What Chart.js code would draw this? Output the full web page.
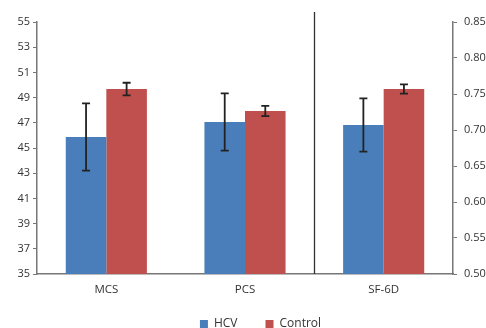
<!DOCTYPE html>
<html>
<head>
<script src="https://cdn.jsdelivr.net/npm/chart.js"></script>
<style>
  body { margin: 0; background: #fff; }
  #wrap { width: 486px; height: 328px; }
</style>
</head>
<body>
<div id="wrap"><canvas id="chart" width="486" height="328"></canvas></div>
<script>
  // data
  const categories = ['MCS', 'PCS', 'SF-6D'];
  const hcvLeft = [45.87, 47.06, null];      // MCS, PCS (left axis)
  const hcvLeftErr = [2.67, 2.27, null];
  const ctrlLeft = [49.68, 47.94, null];
  const ctrlLeftErr = [0.5, 0.41, null];
  const hcvRight = [null, null, 0.707];      // SF-6D (right axis)
  const hcvRightErr = [null, null, 0.037];
  const ctrlRight = [null, null, 0.757];
  const ctrlRightErr = [null, null, 0.0065];

  const BLUE = '#4a7ebb';
  const RED = '#c0504d';

  // error bars + divider line
  const extras = {
    id: 'extras',
    afterLayout(chart) {
      // legend sits a bit higher than chart.js would put it
      chart.legend.top -= 12;
      chart.legend.bottom -= 12;
    },
    afterDatasetsDraw(chart) {
      const ctx = chart.ctx;
      ctx.save();
      ctx.strokeStyle = '#222';
      ctx.lineWidth = 1.8;
      chart.data.datasets.forEach((ds, i) => {
        const meta = chart.getDatasetMeta(i);
        const scale = chart.scales[ds.yAxisID];
        meta.data.forEach((bar, j) => {
          const v = ds.data[j], e = ds.err[j];
          if (v == null || e == null) return;
          const x = bar.x;
          const yt = scale.getPixelForValue(v + e);
          const yb = scale.getPixelForValue(v - e);
          ctx.beginPath();
          ctx.moveTo(x, yt); ctx.lineTo(x, yb);
          ctx.moveTo(x - 4, yt); ctx.lineTo(x + 4, yt);
          ctx.moveTo(x - 4, yb); ctx.lineTo(x + 4, yb);
          ctx.stroke();
        });
      });
      // separator between PCS and SF-6D
      const xs = chart.scales.x;
      const xd = (xs.getPixelForValue(1) + xs.getPixelForValue(2)) / 2;
      ctx.strokeStyle = '#333';
      ctx.lineWidth = 1.3;
      ctx.beginPath();
      ctx.moveTo(Math.round(xd) + 0.5, chart.chartArea.top - 10);
      ctx.lineTo(Math.round(xd) + 0.5, chart.chartArea.bottom);
      ctx.stroke();
      ctx.restore();
    }
  };

  const tickFont = { family: 'Open Sans', size: 11 };

  new Chart(document.getElementById('chart'), {
    type: 'bar',
    data: {
      labels: categories,
      datasets: [
        { label: 'HCV', data: hcvLeft, err: hcvLeftErr, yAxisID: 'y', backgroundColor: BLUE, skipNull: true },
        { label: 'Control', data: ctrlLeft, err: ctrlLeftErr, yAxisID: 'y', backgroundColor: RED, skipNull: true },
        { label: 'HCV ', data: hcvRight, err: hcvRightErr, yAxisID: 'y1', backgroundColor: BLUE, skipNull: true },
        { label: 'Control ', data: ctrlRight, err: ctrlRightErr, yAxisID: 'y1', backgroundColor: RED, skipNull: true }
      ]
    },
    options: {
      responsive: false,
      animation: false,
      categoryPercentage: 0.585,
      barPercentage: 1,
      // negative right/bottom padding shifts the legend to where the original has it
      layout: { padding: { top: 22, left: 0, right: -35, bottom: -24 } },
      plugins: {
        tooltip: { enabled: false },
        legend: {
          position: 'bottom',
          labels: {
            filter: item => item.datasetIndex < 2,
            boxWidth: 8, boxHeight: 8,
            padding: 28,
            color: '#333',
            font: { family: 'Open Sans', size: 12 }
          }
        }
      },
      scales: {
        x: {
          grid: { display: false, drawTicks: false },
          border: { color: '#777', width: 1.5 },
          ticks: { color: '#333', font: { family: 'Open Sans', size: 11.5 }, padding: 9 },
          afterFit: s => { s.height = 28; }
        },
        y: {
          position: 'left',
          min: 35, max: 55,
          ticks: { stepSize: 2, color: '#333', font: tickFont, padding: 3 },
          grid: { display: true, drawOnChartArea: false, tickLength: 4, color: '#777' },
          border: { color: '#777', width: 1.5 },
          afterFit: s => { s.width = 37; }
        },
        y1: {
          position: 'right',
          min: 0.5, max: 0.85,
          ticks: { stepSize: 0.05, color: '#333', font: tickFont, padding: 7,
                   callback: v => v.toFixed(2) },
          grid: { display: true, drawOnChartArea: false, tickLength: 4, color: '#777' },
          border: { color: '#777', width: 1.5 },
          afterFit: s => { s.width = 68; }
        }
      }
    },
    plugins: [extras]
  });
</script>
</body>
</html>
